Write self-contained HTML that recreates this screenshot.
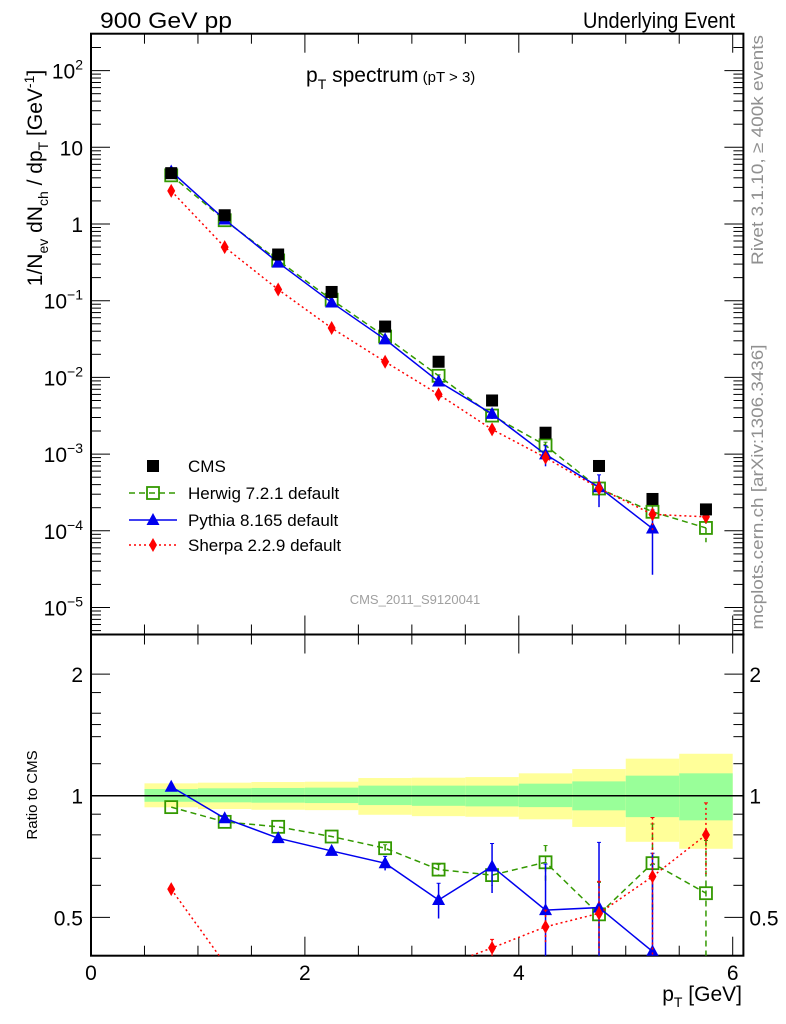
<!DOCTYPE html>
<html><head><meta charset="utf-8"><style>
html,body{margin:0;padding:0;background:#fff;overflow:hidden}
svg{display:block;font-family:"Liberation Sans",sans-serif}
</style></head><body>
<svg id="c" width="786" height="1024" viewBox="0 0 786 1024"></svg>
<script>
const xs=[0.75,1.25,1.75,2.25,2.75,3.25,3.75,4.25,4.75,5.25,5.75];
const cms=[4.6,1.3,0.4,0.13,0.046,0.016,0.005,0.0019,0.0007,0.00026,0.00019];
const herwig=[4.31,1.12,0.335,0.103,0.0341,0.0105,0.00318,0.0013,0.000356,0.000177,0.000109];
const pythia=[4.84,1.143,0.314,0.0949,0.0313,0.00883,0.00334,0.00099,0.00037,0.000107,null];
const sherpa=[2.7,0.5,0.14,0.044,0.016,0.006,0.0021,0.0009,0.000358,0.000164,0.000152];
const herwigErr=[0,0,0,0,0.02,0.03,0.06,0.1,0.2,0.25,0.35];
const pythiaErr=[0,0,0,0,0.04,0.1,0.14,0.3,0.45,0.75,0];
const sherpaErr=[0,0,0,0,0,0,0.05,0.1,0.2,0.4,0.2];
const bandYelHi=[1.073,1.077,1.081,1.083,1.106,1.108,1.112,1.136,1.164,1.235,1.27];
const bandYelLo=[0.936,0.927,0.923,0.921,0.897,0.890,0.887,0.874,0.837,0.769,0.739];
const bandGrnHi=[1.039,1.043,1.045,1.047,1.059,1.059,1.059,1.071,1.085,1.121,1.136];
const bandGrnLo=[0.966,0.963,0.961,0.959,0.948,0.944,0.941,0.937,0.920,0.885,0.869];
const upperDecades=[-5,-4,-3,-2,-1,0,1,2];
const upperExp=["\u22125","\u22124","\u22123","\u22122","\u22121","","","2"];
const upperBase=["10","10","10","10","10","1","10","10"];
const ratioTicks=[0.5,1,2];
const ratioLabels=["0.5","1","2"];
const xTicks=[0,2,4,6];

const svg=document.getElementById('c');
const NS='http://www.w3.org/2000/svg';
function el(t,a,p){const e=document.createElementNS(NS,t);for(const k in a)e.setAttribute(k,a[k]);(p||svg).appendChild(e);return e;}
const L=91,R=743.4,T1=33.7,B1=634.5,T2=634.5,B2=955.7;
const X=v=>L+v*106.95;
const Y1=v=>224-Math.log10(v)*76.7;
const Y2=v=>795.7-Math.log10(v)*404;
const clip=el('defs',{});
const cp1=el('clipPath',{id:'cp1'},clip);el('rect',{x:L,y:T1,width:R-L,height:B1-T1},cp1);
const cp2=el('clipPath',{id:'cp2'},clip);el('rect',{x:L,y:T2,width:R-L,height:B2-T2},cp2);

const gb=el('g',{'clip-path':'url(#cp2)'});


xs.forEach((x,i)=>{
 el('rect',{x:X(x-0.25),y:Y2(bandYelHi[i]),width:X(0.5)-X(0),height:Y2(bandYelLo[i])-Y2(bandYelHi[i]),fill:'#ffff99'},gb);
 el('rect',{x:X(x-0.25),y:Y2(bandGrnHi[i]),width:X(0.5)-X(0),height:Y2(bandGrnLo[i])-Y2(bandGrnHi[i]),fill:'#99ff99'},gb);
});
el('line',{x1:L,x2:R,y1:Y2(1),y2:Y2(1),stroke:'#000','stroke-width':1.5});

function frame(T,B,name){
 const r=el('rect',{x:L,y:T,width:R-L,height:B-T,fill:'none',stroke:'#000','stroke-width':2});
 
 for(let v=0;v<=6.01;v+=0.5){const maj=Math.abs(v-Math.round(v/2)*2)<0.01;const len=maj?19:10;
  el('line',{x1:X(v),x2:X(v),y1:B,y2:B-len,stroke:'#000'});el('line',{x1:X(v),x2:X(v),y1:T,y2:T+len,stroke:'#000'});}
}
frame(T1,B1,'upper-plot-frame');frame(T2,B2,'ratio-plot-frame');
for(let d=-6;d<=2;d++){for(let m=1;m<10;m++){const v=m*Math.pow(10,d);const y=Y1(v);if(y<T1||y>B1)continue;const len=m==1?19:10;
 el('line',{x1:L,x2:L+len,y1:y,y2:y,stroke:'#000'});el('line',{x1:R,x2:R-len,y1:y,y2:y,stroke:'#000'});}}
[0.4,0.5,0.6,0.7,0.8,0.9,1,1.5,2,2.5].forEach(v=>{const y=Y2(v);if(y<T2||y>B2)return;const len=[0.5,1,2].includes(v)?19:10;
 el('line',{x1:L,x2:L+len,y1:y,y2:y,stroke:'#000'});el('line',{x1:R,x2:R-len,y1:y,y2:y,stroke:'#000'});});
[1.2,1.4,1.6,1.8].forEach(v=>{const y=Y2(v);el('line',{x1:L,x2:L+10,y1:y,y2:y,stroke:'#000'});el('line',{x1:R,x2:R-10,y1:y,y2:y,stroke:'#000'});});

function text(s,a,name){const t=el('text',a);t.textContent=s;return t;}
upperDecades.forEach((d,i)=>{
 const y=Y1(Math.pow(10,d))+8;
 if(upperExp[i]){
  const t=text('',{x:L-8,y:y,'text-anchor':'end','font-size':21},'y-tick-label');
  t.innerHTML=upperBase[i]+'<tspan dy="-9" font-size="14">'+upperExp[i]+'</tspan>';
 } else text(upperBase[i],{x:L-8,y:y,'text-anchor':'end','font-size':21},'y-tick-label');
});
ratioTicks.forEach((v,i)=>{text(ratioLabels[i],{x:L-8,y:Y2(v)+8,'text-anchor':'end','font-size':21},'ratio-tick-label');
 text(ratioLabels[i],{x:R+6,y:Y2(v)+8,'text-anchor':'start','font-size':21},'ratio-tick-label-right');});
xTicks.forEach(v=>text(String(v),{x:X(v),y:980,'text-anchor':'middle','font-size':21},'x-tick-label'));

const series=[
 {name:'herwig',vals:herwig,err:herwigErr,color:'#339900',dash:'6,4',mk:'sq'},
 {name:'pythia',vals:pythia,err:pythiaErr,color:'#0000ee',dash:'',mk:'tri'},
 {name:'sherpa',vals:sherpa,err:sherpaErr,color:'#ff0000',dash:'2,3',mk:'dia'}];
function marker(t,x,y,c,g){
 if(t=='sq')return el('rect',{x:x-6,y:y-6,width:12,height:12,fill:'none',stroke:c,'stroke-width':1.8},g);
 if(t=='tri')return el('polygon',{points:`${x},${y-7} ${x-6.5},${y+5} ${x+6.5},${y+5}`,fill:c},g);
 if(t=='dia')return el('polygon',{points:`${x},${y-7} ${x-4},${y} ${x},${y+7} ${x+4},${y}`,fill:c},g);
 if(t=='cms')return el('rect',{x:x-6,y:y-6,width:12,height:12,fill:'#000'},g);
}
function drawSeries(s,Yf,cpid,ratio){
 const g=el('g',{'clip-path':`url(#${cpid})`});
 
 
 const pts=[];
 xs.forEach((x,i)=>{let v=s.vals[i];if(v==null)return;if(ratio)v=v/cms[i];pts.push([X(x),Yf(v),v,i]);});
 el('polyline',{points:pts.map(p=>p[0]+','+p[1]).join(' '),fill:'none',stroke:s.color,'stroke-width':1.5,'stroke-dasharray':s.dash},g);
 pts.forEach(p=>{const e=s.err[p[3]];if(e>0){const hi=Yf(p[2]*(1+e)),lo=Yf(Math.max(p[2]*(1-e),1e-9));
  el('line',{x1:p[0],x2:p[0],y1:hi,y2:lo,stroke:s.color,'stroke-width':1.5,'stroke-dasharray':s.dash},g);
  el('line',{x1:p[0]-2,x2:p[0]+2,y1:hi,y2:hi,stroke:s.color},g);}
  const m=marker(s.mk,p[0],p[1],s.color,g);
  });
}
series.forEach(s=>drawSeries(s,Y1,'cp1',false));
const gc=el('g',{'clip-path':'url(#cp1)'});

xs.forEach((x,i)=>{const m=marker('cms',X(x),Y1(cms[i]),'#000',gc);});
series.forEach(s=>drawSeries(s,Y2,'cp2',true));

const lg=el('g',{});
const legRows=[['CMS',null,'cms','#000',''],['Herwig 7.2.1 default','herwig','sq','#339900','6,4'],['Pythia 8.165 default','pythia','tri','#0000ee',''],['Sherpa 2.2.9 default','sherpa','dia','#ff0000','2,3']];
const legY=[466,493,520,545];
legRows.forEach((r,i)=>{const y=legY[i];const g=el('g',{},lg);
 
 if(r[1])el('line',{x1:129,x2:177,y1:y,y2:y,stroke:r[3],'stroke-width':1.5,'stroke-dasharray':r[4]},g);
 marker(r[2],153,y,r[3],g);
 const t=el('text',{x:188,y:y+6,'font-size':17},g);t.textContent=r[0];});

text('900 GeV pp',{x:100,y:28,'font-size':22,textLength:132,lengthAdjust:'spacingAndGlyphs'},'energy-label');
text('Underlying Event',{x:735,y:28,'font-size':22,'text-anchor':'end',textLength:152,lengthAdjust:'spacingAndGlyphs'},'process-label');
const tt=text('',{x:306,y:82,'font-size':21},'plot-title');
tt.innerHTML='p<tspan dy="7" font-size="14">T</tspan><tspan dy="-7"> spectrum</tspan><tspan font-size="15"> (pT &gt;  3)</tspan>';
const yl=text('',{transform:'translate(42,178) rotate(-90)','font-size':21,'text-anchor':'middle'},'y-axis-title');
yl.innerHTML='1/N<tspan dy="6" font-size="14">ev</tspan><tspan dy="-6"> dN</tspan><tspan dy="6" font-size="14">ch</tspan><tspan dy="-6"> / dp</tspan><tspan dy="6" font-size="14">T</tspan><tspan dy="-6">  [GeV</tspan><tspan dy="-8" font-size="14">-1</tspan><tspan dy="8">]</tspan>';
text('Ratio to CMS',{transform:'translate(37,795) rotate(-90)','font-size':15,'text-anchor':'middle'},'ratio-axis-title');
const xl=text('',{x:742,y:1001,'font-size':21,'text-anchor':'end'},'x-axis-title');
xl.innerHTML='p<tspan dy="6" font-size="14">T</tspan><tspan dy="-6"> [GeV]</tspan>';
text('CMS_2011_S9120041',{x:415,y:604,'font-size':13,fill:'#a0a0a0','text-anchor':'middle'},'analysis-id');
text('Rivet 3.1.10, \u2265 400k events',{transform:'translate(763,150) rotate(-90)','font-size':16.5,fill:'#909090','text-anchor':'middle',textLength:230,lengthAdjust:'spacingAndGlyphs'},'rivet-version-label');
text('mcplots.cern.ch [arXiv:1306.3436]',{transform:'translate(763,487) rotate(-90)','font-size':16.5,fill:'#909090','text-anchor':'middle',textLength:285,lengthAdjust:'spacingAndGlyphs'},'mcplots-label');
</script>
</body></html>
